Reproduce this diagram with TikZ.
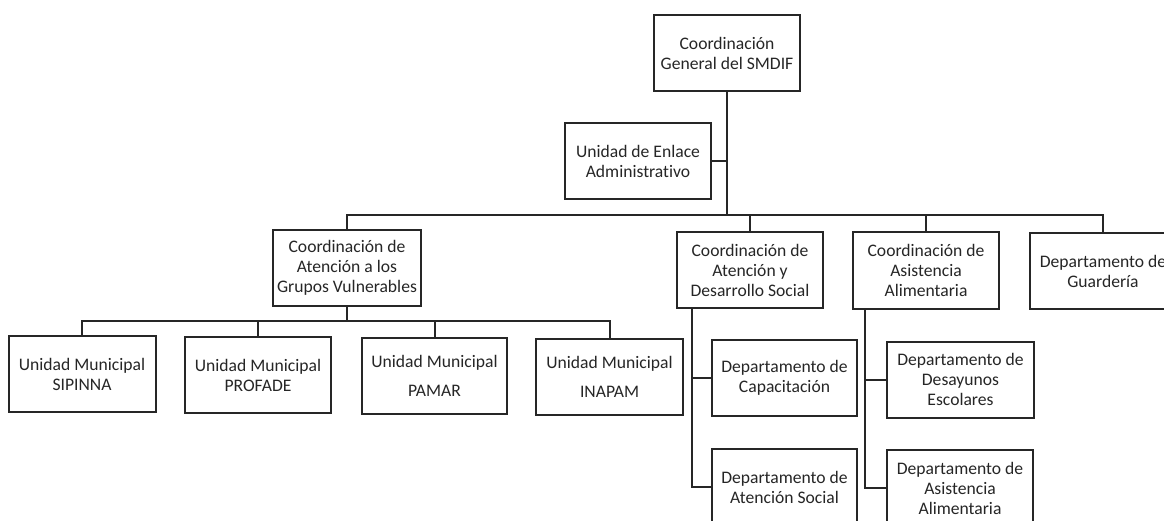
\documentclass[tikz,border=0pt]{standalone}
\usepackage{fontspec}
\setmainfont[Ligatures={NoCommon}]{Carlito}
\begin{document}
\begin{tikzpicture}[x=1pt,y=-1pt,
  orgbox/.style={draw=black!85, line width=2pt, minimum width=146pt, minimum height=76pt,
    inner sep=0pt, outer sep=0pt, align=center, fill=white,
    font=\fontsize{17.6}{20}\selectfont, text=black!85},
  link/.style={draw=black!85, line width=2pt}]
\clip (0,0) rectangle (1164,521);
\fill[white] (0,0) rectangle (1164,521);
% nodes
\node[orgbox] (top) at (727,53) {Coordinación\\General del SMDIF};
\node[orgbox] (enlace) at (638,161) {Unidad de Enlace\\Administrativo};
\node[orgbox, minimum width=148pt] (grupos) at (347,268) {Coordinación de\\Atención a los\\Grupos Vulnerables};
\node[orgbox] (desarrollo) at (750,270) {Coordinación de\\Atención y\\Desarrollo Social};
\node[orgbox] (asistencia) at (926,270.5) {Coordinación de\\Asistencia\\Alimentaria};
\node[orgbox] (guarderia) at (1103,271) {Departamento de\\Guardería};
\node[orgbox, minimum width=147pt] (sipinna) at (82,374) {Unidad Municipal\\SIPINNA};
\node[orgbox] (profade) at (258,375) {Unidad Municipal\\PROFADE};
\node[orgbox, minimum width=145pt] (pamar) at (434.5,375.5) {Unidad Municipal\\[9pt]PAMAR};
\node[orgbox, minimum width=147pt] (inapam) at (609.5,377) {Unidad Municipal\\[9pt]INAPAM};
\node[orgbox, minimum width=145pt] (capacitacion) at (784.5,377.5) {Departamento de\\Capacitación};
\node[orgbox, minimum width=147pt] (desayunos) at (960.5,379.5) {Departamento de\\Desayunos\\Escolares};
\node[orgbox, minimum width=145pt] (atsocial) at (784.5,487) {Departamento de\\Atención Social};
\node[orgbox] (asistalim) at (960,488) {Departamento de\\Asistencia\\Alimentaria};
% bus coordinates
\coordinate (bus1) at (0,215);
\coordinate (bus2) at (0,321);
\coordinate (vd) at (692,0);
\coordinate (va) at (865,0);
% connectors
\draw[link] (top.south) -- (top.south |- bus1);
\draw[link] (enlace.east) -- (enlace.east -| top.south);
\draw[link] (grupos.north) |- (guarderia.north |- bus1) -- (guarderia.north);
\draw[link] (desarrollo.north) -- (desarrollo.north |- bus1);
\draw[link] (asistencia.north) -- (asistencia.north |- bus1);
\draw[link] (grupos.south) -- (grupos.south |- bus2);
\draw[link] (sipinna.north) |- (inapam.north |- bus2) -- (inapam.north);
\draw[link] (profade.north) -- (profade.north |- bus2);
\draw[link] (pamar.north) -- (pamar.north |- bus2);
\draw[link] (desarrollo.south -| vd) |- (atsocial.west);
\draw[link] (capacitacion.west) -- (capacitacion.west -| vd);
\draw[link] (asistencia.south -| va) |- (asistalim.west);
\draw[link] (desayunos.west) -- (desayunos.west -| va);
\end{tikzpicture}
\end{document}
